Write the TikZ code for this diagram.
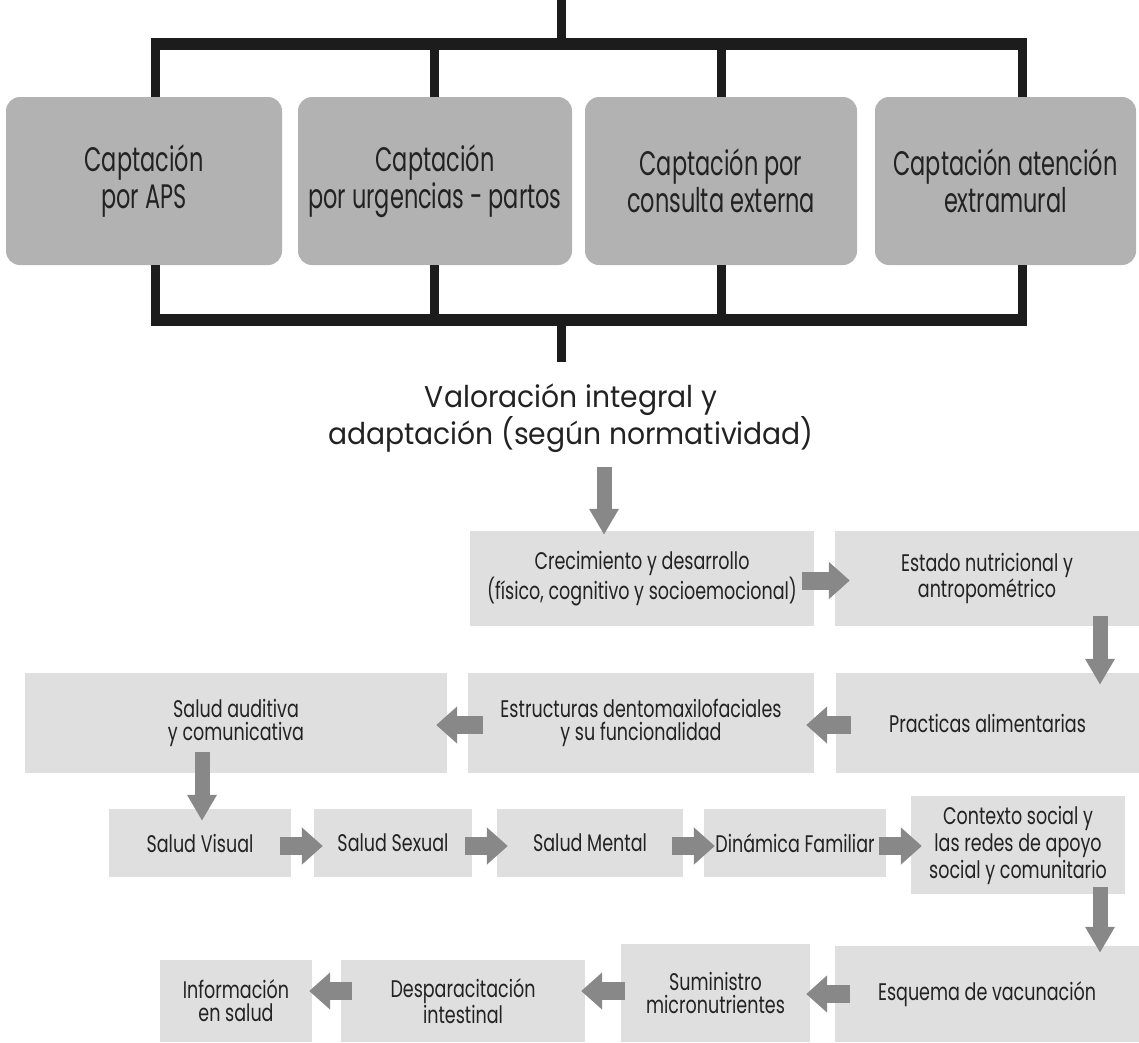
\documentclass[tikz,border=0pt]{standalone}
\usepackage{fontspec}
\setmainfont{Poppins}
\newfontfamily\topfont[FakeStretch=0.66]{Poppins}
\newfontfamily\lowfont[FakeStretch=0.73]{Poppins}
\newfontfamily\valfont[FakeStretch=0.94]{Poppins}
\usetikzlibrary{arrows.meta,calc}
\definecolor{topfill}{HTML}{B2B2B2}
\definecolor{lowfill}{HTML}{DFDFDF}
\definecolor{arrowgray}{HTML}{888888}
\definecolor{barcol}{HTML}{1C1C1C}
\definecolor{txt}{HTML}{222222}
\begin{document}
\begin{tikzpicture}[x=1pt,y=-1pt,
  topbox/.style={fill=topfill, rounded corners=14pt, minimum width=#1, minimum height=168pt,
     align=center, inner sep=0pt, text=txt, font=\topfont\fontsize{34}{37}\selectfont},
  lowbox/.style={fill=lowfill, minimum width=#1, minimum height=95pt,
     align=center, inner sep=0pt, text=txt, font=\lowfont\fontsize{24}{23}\selectfont},
  hbar/.style={draw=barcol, line width=12pt},
  vbar/.style={draw=barcol, line width=9pt},
  harrow/.style={draw=arrowgray, line width=18pt, -{Triangle[width=36pt,length=21pt]}},
  varrow/.style={draw=arrowgray, line width=15pt, -{Triangle[width=28pt,length=26pt]}},
]
\useasboundingbox (0,0) rectangle (1139,1042);
\fill[white] (0,0) rectangle (1139,1042);

% top row boxes
\node[topbox=276pt] (b1) at (144,181) {Captación\\por APS};
\node[topbox=274pt] (b2) at (435,181) {Captación\\por urgencias - partos};
\node[topbox=272pt] (b3) at (721,181) {Captación por\\consulta externa};
\node[topbox=261pt] (b4) at (1005.5,181) {Captación atención\\extramural};

% top bracket
\coordinate (tin) at (561.5,0);
\coordinate (tj) at (561.5,44);
\coordinate (t1) at ($(b1.north)+(11,-53)$);
\coordinate (t2) at ($(b2.north)+(-1,-53)$);
\coordinate (t3) at ($(b3.north)+(0,-53)$);
\coordinate (t4) at ($(b4.north)+(16.5,-53)$);
\draw[vbar] (tin) -- (tj);
\draw[vbar] (t1) -- (t1 |- b1.north);
\draw[vbar] (t2) -- (t2 |- b2.north);
\draw[vbar] (t3) -- (t3 |- b3.north);
\draw[vbar] (t4) -- (t4 |- b4.north);
\draw[hbar] ($(t1)+(-4.5,0)$) -- ($(t4)+(4.5,0)$);

% bottom bracket
\coordinate (u1) at ($(b1.south)+(11,55)$);
\coordinate (u2) at ($(b2.south)+(-1,55)$);
\coordinate (u3) at ($(b3.south)+(0,55)$);
\coordinate (u4) at ($(b4.south)+(16.5,55)$);
\coordinate (uj) at (561.5,320);
\draw[vbar] (u1 |- b1.south) -- (u1);
\draw[vbar] (u2 |- b2.south) -- (u2);
\draw[vbar] (u3 |- b3.south) -- (u3);
\draw[vbar] (u4 |- b4.south) -- (u4);
\draw[hbar] ($(u1)+(-4.5,0)$) -- ($(u4)+(4.5,0)$);
\coordinate (ujend) at (561.5,362);
\draw[vbar] (uj) -- (ujend);

\node[align=center, text=txt, font=\valfont\fontsize{30}{33}\selectfont, inner sep=0pt] (val) at (571,418)
  {Valoración integral y\\adaptación (según normatividad)};

% lower boxes
\node[lowbox=344pt] (crec) at (642,578.5) {Crecimiento y desarrollo\\(físico, cognitivo y socioemocional)};
\node[lowbox=304pt] (estado) at (987,578.5) {Estado nutricional y\\antropométrico};
\node[lowbox=422pt, minimum height=100pt] (audit) at (236,723) {Salud auditiva\\y comunicativa};
\node[lowbox=346pt, minimum height=100pt] (estruct) at (641,723) {Estructuras dentomaxilofaciales\\y su funcionalidad};
\node[lowbox=303pt, minimum height=100pt] (pract) at (987.5,723) {Practicas alimentarias};
\node[lowbox=182pt, minimum height=68pt] (visual) at (200,843) {Salud Visual};
\node[lowbox=158pt, minimum height=68pt] (sexual) at (393,843) {Salud Sexual};
\node[lowbox=186pt, minimum height=68pt] (mental) at (590,843) {Salud Mental};
\node[lowbox=182pt, minimum height=68pt] (dinam) at (795,843) {Dinámica Familiar};
\node[lowbox=214pt, minimum height=98pt, font=\lowfont\fontsize{24}{27}\selectfont] (contexto) at (1018,845)
  {Contexto social y\\las redes de apoyo\\social y comunitario};
\node[lowbox=152pt, minimum height=82pt] (info) at (236,1001) {Información\\en salud};
\node[lowbox=244pt, minimum height=82pt] (despar) at (463,1001) {Desparacitación\\intestinal};
\node[lowbox=189pt, minimum height=98pt] (sumin) at (715.5,993) {Suministro\\micronutrientes};
\node[lowbox=304pt, minimum height=96pt] (esquema) at (987,994) {Esquema de vacunación};

% arrows
\draw[varrow] ($(val.south)+(33,14)$) -- ($(crec.north)+(-38,4)$);
\draw[harrow] ($(crec.east)+(-12,2)$) -- ($(estado.west)+(15,2)$);
\draw[varrow] ($(estado.south)+(113,-10)$) -- ($(pract.north)+(112.5,12)$);
\draw[harrow] ($(pract.west)+(15,2)$) -- ($(estruct.east)+(-8,2)$);
\draw[harrow] ($(estruct.west)+(15,2)$) -- ($(audit.east)+(-11,2)$);
\draw[varrow] ($(audit.south)+(-34,-21)$) -- ($(visual.north)+(2,12)$);
\draw[harrow] ($(visual.east)+(-11,3)$) -- ($(sexual.west)+(9,3)$);
\draw[harrow] ($(sexual.east)+(-7,3)$) -- ($(mental.west)+(11,3)$);
\draw[harrow] ($(mental.east)+(-11,3)$) -- ($(dinam.west)+(11,3)$);
\draw[harrow] ($(dinam.east)+(-7,3)$) -- ($(contexto.west)+(11,1)$);
\draw[varrow] ($(contexto.south)+(82,-7)$) -- ($(esquema.north)+(113,7)$);
\draw[harrow] ($(esquema.west)+(15,0)$) -- ($(sumin.east)+(-4,1)$);
\draw[harrow] ($(sumin.west)+(4,-2)$) -- ($(despar.east)+(-4,-10)$);
\draw[harrow] ($(despar.west)+(11,-10)$) -- ($(info.east)+(-3,-10)$);
\end{tikzpicture}
\end{document}
